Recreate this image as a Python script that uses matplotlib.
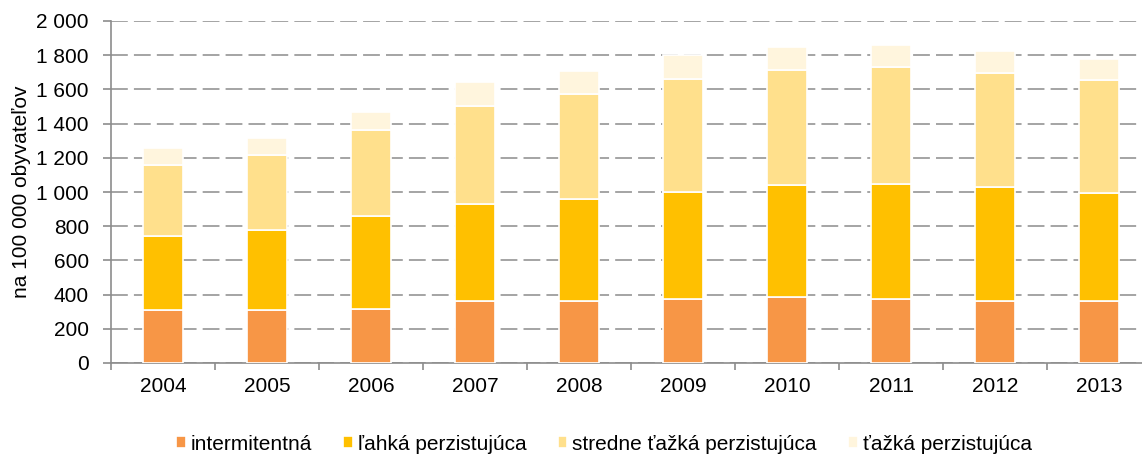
import numpy as np
import matplotlib
matplotlib.use('Agg')
import matplotlib.pyplot as plt
from matplotlib.ticker import FuncFormatter, FixedLocator
import matplotlib.patheffects as pe

plt.rcParams['font.family'] = ['Liberation Sans', 'DejaVu Sans']

years = ['2004', '2005', '2006', '2007', '2008', '2009', '2010', '2011', '2012', '2013']
intermitentna = [312, 308, 318, 361, 361, 377, 386, 377, 365, 361]
lahka = [429, 468, 544, 571, 598, 623, 653, 668, 662, 635]
stredne = [419, 443, 499, 573, 614, 661, 677, 686, 671, 661]
tazka = [100, 99, 107, 138, 133, 139, 130, 129, 127, 122]

labels = ['intermitentná', 'ľahká perzistujúca', 'stredne ťažká perzistujúca', 'ťažká perzistujúca']
colors = ['#F79646', '#FFC000', '#FFE08C', '#FFF5DD']

W, H = 1142, 457
fig = plt.figure(figsize=(W / 100, H / 100), dpi=100)
ax = fig.add_axes([111 / W, 1 - 363 / H, (W - 111) / W, (363 - 21) / H])

x = np.arange(len(years))
bottom = np.zeros(len(years))
shadow = [pe.SimplePatchShadow(offset=(1.2, -1.2), shadow_rgbFace='#999999', alpha=0.35), pe.Normal()]
for vals, lab, col in zip([intermitentna, lahka, stredne, tazka], labels, colors):
    bars = ax.bar(x, vals, width=0.39, bottom=bottom, color=col, edgecolor='white',
                  linewidth=1.2, label=lab, zorder=3)
    for b in bars:
        b.set_path_effects(shadow)
    bottom += np.array(vals)

ax.set_ylim(0, 2000)
ax.set_xlim(-0.5, -0.5 + (W - 111) / 104)
ax.set_yticks(np.arange(0, 2001, 200))
ax.yaxis.set_major_formatter(FuncFormatter(lambda v, p: f'{int(v):,}'.replace(',', ' ')))
ax.grid(axis='y', color='#8c8c8c', linestyle=(0, (11, 4)), linewidth=1.1, zorder=0)

ax.set_xticks(x)
ax.set_xticklabels(years)
ax.xaxis.set_minor_locator(FixedLocator(np.arange(-0.5, 10, 1)))
ax.tick_params(axis='x', which='major', length=0, labelsize=15, pad=10)
ax.tick_params(axis='x', which='minor', length=5, width=1.2, color='#8c8c8c')
ax.tick_params(axis='y', length=6, width=1.2, color='#8c8c8c', labelsize=15, pad=10)

for s in ['top', 'right']:
    ax.spines[s].set_visible(False)
for s in ['left', 'bottom']:
    ax.spines[s].set_color('#8c8c8c')
    ax.spines[s].set_linewidth(1.2)

fig.text(22 / W, 1 - 192 / H, 'na 100 000 obyvateľov', rotation=90, fontsize=15,
         ha='center', va='center')

handles, labs = ax.get_legend_handles_labels()
for h in handles:
    for b in h:
        b.set_path_effects([])
fig.legend(handles, labs, loc='center', bbox_to_anchor=(604 / W, 1 - 444 / H), ncol=4,
           frameon=False, fontsize=15, handlelength=0.45, handleheight=0.45,
           handletextpad=0.25, columnspacing=1.5)

fig.savefig('out.png', dpi=100)
